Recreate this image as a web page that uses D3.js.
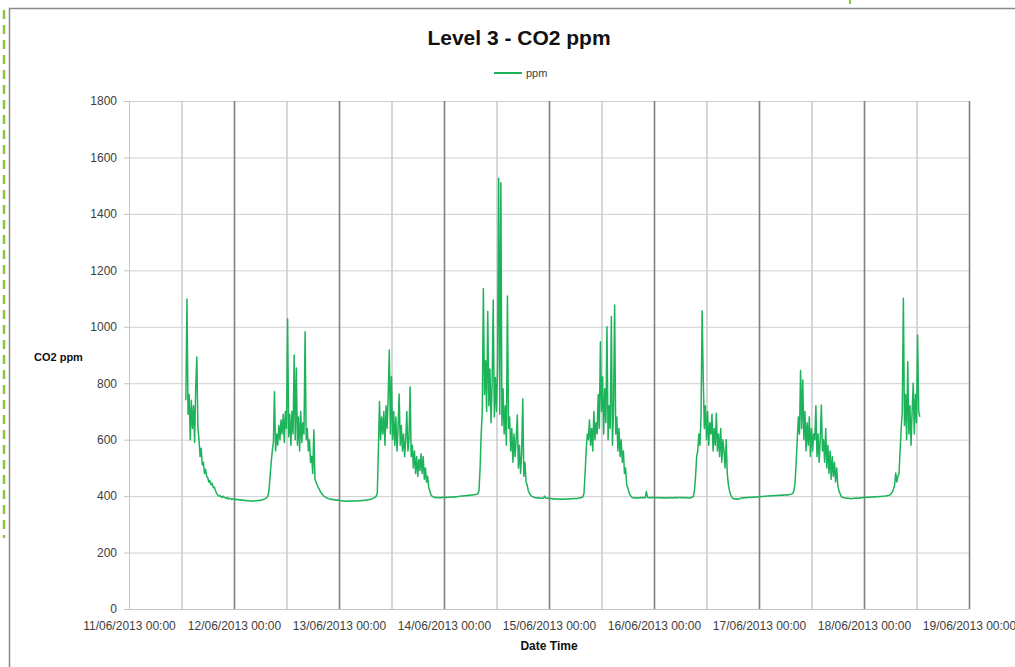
<!DOCTYPE html>
<html>
<head>
<meta charset="utf-8">
<script src="https://cdn.jsdelivr.net/npm/d3@7"></script>
<style>
  body { margin: 0; background: #fff; }
  text { font-family: "Liberation Sans", Arial, sans-serif; }
</style>
</head>
<body>
<svg width="1015" height="667"></svg>
<script>
// readings every 15 minutes, first one at 11/06/2013 13:00
const seriesStart = "2013-06-11 13:00";
const stepMinutes = 15;

const ppm11 = [740,1098,690,760, 600,740,640,720, 590,787,893,640,
  600,540,570,510, 520,480,495,470,
  465,450,455,440, 445,430,432,420,
  410,405,400,402, 398,395,400,396, 394,392,395,390, 392,390,388,390];

const ppm12 = [390,388,389,387, 388,386,387,385, 386,385,384,385, 384,383,384,383,
  383,382,383,384, 383,384,385,384, 385,386,387,388,
  390,392,395,400, 420,470,520,560,
  590,770,560,620, 580,650,600,670, 620,690,590,700, 640,1028,610,690,
  580,700,620,900, 600,854,580,680, 560,700,590,660, 620,982,600,640,
  560,600,520,540, 480,634,460,450, 440,430,425,415,
  410,405,400,398, 395,393,392,390, 390,388,389,387, 386,387,385,386];

const ppm13 = [385,384,384,383, 383,382,383,382, 382,383,382,383, 383,382,383,384,
  383,384,383,384, 384,385,384,385, 385,386,386,387, 388,389,390,392, 394,396,400,410,
  560,735,600,680, 620,700,580,720, 640,760,918,620, 824,600,700,580,
  680,560,640,762, 580,650,560,620, 540,600,700,560, 600,787,540,580,
  500,560,480,540, 470,530,490,550, 480,540,460,500, 450,470,430,420,
  405,400,398,396, 395,396,395,394, 395,394,396,395];

const ppm14 = [395,396,395,396, 396,397,396,397, 397,398,397,398, 398,399,399,400,
  400,401,400,401, 401,402,402,403, 403,404,404,405, 405,406,407,408,
  420,500,620,700,
  1136,760,880,700, 1054,720,850,660, 800,1095,680,820, 700,860,1526,690,
  1510,650,780,620, 720,580,1109,640, 680,560,640,520, 620,540,600,687,
  500,580,480,550, 744,470,520,450, 440,420,410,405,
  400,398,396,395, 394,393,394,393, 392,393,392,393, 400,393,392,393];

const ppm15 = [392,391,392,390, 391,390,391,390, 390,389,390,389, 389,390,389,390,
  390,389,390,391, 390,391,392,391, 392,391,392,393, 393,394,395,398,
  410,480,560,620,
  600,670,580,640, 560,700,600,660, 620,760,640,947, 700,823,620,780,
  660,1000,600,720, 640,1036,580,700, 1077,620,680,560, 640,540,600,520,
  560,480,500,440, 430,415,405,400,
  395,394,393,394, 393,394,393,394, 395,394,395,394, 395,416,396,395, 394,395,394,395];

const ppm16 = [395,394,395,394, 394,395,394,393, 394,393,394,393, 393,394,393,394,
  394,393,394,395, 394,395,394,395, 395,394,395,394, 394,395,394,393, 393,394,395,396,
  400,420,470,540, 560,620,580,680, 1057,823,640,720, 600,700,580,660,
  620,690,560,640, 580,694,560,620, 540,640,520,600, 560,500,600,480,
  440,420,405,398,
  392,391,390,389, 390,389,391,392, 393,394,393,394, 395,394,395,396,
  396,395,396,397, 397,396,397,398];

const ppm17 = [398,399,398,399, 399,400,399,400, 400,401,400,401, 401,402,401,402,
  402,403,402,403, 403,404,403,404, 404,405,404,405, 406,407,408,410,
  420,450,520,600,
  680,620,845,640, 811,600,700,560, 660,580,681,540, 640,560,620,600,
  720,540,620,520, 600,723,560,600, 520,640,500,580, 480,560,460,540,
  470,520,450,500, 440,420,410,400,
  396,395,394,393, 392,393,392,391, 392,391,392,393, 392,393,392,393, 394,393,394,395];

const ppm18 = [395,396,395,396, 396,397,396,397, 397,398,397,398, 398,399,398,399,
  399,400,399,400, 400,401,402,403,
  405,410,415,425, 440,482,450,470, 480,560,640,700,
  1101,650,760,600, 876,620,720,580, 700,800,620,760, 660,971,700,681];

const dayTicks = ["2013-06-11","2013-06-12","2013-06-13","2013-06-14","2013-06-15",
  "2013-06-16","2013-06-17","2013-06-18","2013-06-19"];
const yTicks = [0,200,400,600,800,1000,1200,1400,1600,1800];

const parseTime = d3.utcParse("%Y-%m-%d %H:%M");
const parseDay = d3.utcParse("%Y-%m-%d");
const t0 = parseTime(seriesStart);
const values = [].concat(ppm11, ppm12, ppm13, ppm14, ppm15, ppm16, ppm17, ppm18);
const data = values.map((v, i) => ({ t: d3.utcMinute.offset(t0, i * stepMinutes), v: v }));
const days = dayTicks.map(parseDay);
const noons = days.slice(0, -1).map(d => d3.utcHour.offset(d, 12));

const svg = d3.select("svg");
const plotLeft = 129, plotRight = 969, plotTop = 101, plotBottom = 609;

const x = d3.scaleUtc().domain([days[0], days[days.length - 1]]).range([plotLeft, plotRight]);
const y = d3.scaleLinear().domain([0, 1800]).range([plotBottom, plotTop]);

// outer frame
svg.append("path")
  .attr("d", "M9.5,667 V8.5 H1015")
  .attr("fill", "none").attr("stroke", "#8a8a8a").attr("stroke-width", 1.5);
svg.append("line")
  .attr("x1", 4).attr("x2", 4).attr("y1", 10).attr("y2", 538)
  .attr("stroke", "#8cc63e").attr("stroke-width", 2.5).attr("stroke-dasharray", "9,6");
svg.append("line")
  .attr("x1", 850).attr("x2", 850).attr("y1", 0).attr("y2", 4)
  .attr("stroke", "#8cc63e").attr("stroke-width", 2);

// horizontal gridlines
svg.append("g")
  .attr("transform", `translate(${plotLeft},0)`)
  .call(d3.axisLeft(y).tickValues(yTicks).tickSize(-(plotRight - plotLeft)).tickFormat(""))
  .call(g => g.select(".domain").remove())
  .call(g => g.selectAll("line").attr("stroke", "#cfcfcf"));

// noon gridlines
svg.append("g")
  .attr("transform", `translate(0,${plotBottom})`)
  .call(d3.axisBottom(x).tickValues(noons).tickSize(-(plotBottom - plotTop)).tickFormat(""))
  .call(g => g.select(".domain").remove())
  .call(g => g.selectAll("line").attr("stroke", "#cacaca").attr("stroke-width", 1.5));

// day gridlines
svg.append("g")
  .attr("transform", `translate(0,${plotBottom})`)
  .call(d3.axisBottom(x).tickValues(days.slice(1)).tickSize(-(plotBottom - plotTop)).tickFormat(""))
  .call(g => g.select(".domain").remove())
  .call(g => g.selectAll("line").attr("stroke", "#808080").attr("stroke-width", 1.6));

// y axis
svg.append("g")
  .attr("transform", `translate(${plotLeft},0)`)
  .call(d3.axisLeft(y).tickValues(yTicks).tickSize(5).tickPadding(7).tickFormat(d3.format("d")))
  .call(g => g.select(".domain").attr("stroke", "#c4c4c4"))
  .call(g => g.selectAll("line").attr("stroke", "#c4c4c4"))
  .call(g => g.selectAll("text").attr("fill", "#404040").style("font-size", "12px")
    .style("font-family", "Liberation Sans, Arial, sans-serif"));

// x axis
svg.append("g")
  .attr("transform", `translate(0,${plotBottom})`)
  .call(d3.axisBottom(x).tickValues(days).tickSize(0).tickPadding(12)
    .tickFormat(d3.utcFormat("%d/%m/%Y %H:%M")))
  .call(g => g.select(".domain").attr("stroke", "#c4c4c4"))
  .call(g => g.selectAll("text").attr("fill", "#404040").style("font-size", "12px")
    .style("font-family", "Liberation Sans, Arial, sans-serif"));

// series
svg.append("path")
  .datum(data)
  .attr("fill", "none")
  .attr("stroke", "#1cb35a")
  .attr("stroke-width", 1.5)
  .attr("stroke-linejoin", "round")
  .attr("d", d3.line().x(d => x(d.t)).y(d => y(d.v)));

// title, legend, axis titles
svg.append("text")
  .attr("x", 519).attr("y", 45)
  .attr("text-anchor", "middle")
  .style("font-size", "21px").style("font-weight", "bold").attr("fill", "#111")
  .text("Level 3 - CO2 ppm");

svg.append("line")
  .attr("x1", 494).attr("x2", 522).attr("y1", 73).attr("y2", 73)
  .attr("stroke", "#1cb35a").attr("stroke-width", 2);
svg.append("text")
  .attr("x", 526).attr("y", 77)
  .style("font-size", "11px").attr("fill", "#404040")
  .text("ppm");

svg.append("text")
  .attr("x", 34).attr("y", 361)
  .style("font-size", "11px").style("font-weight", "bold").attr("fill", "#111")
  .text("CO2 ppm");

svg.append("text")
  .attr("x", 549).attr("y", 650)
  .attr("text-anchor", "middle")
  .style("font-size", "12px").style("font-weight", "bold").attr("fill", "#111")
  .text("Date Time");
</script>
</body>
</html>
